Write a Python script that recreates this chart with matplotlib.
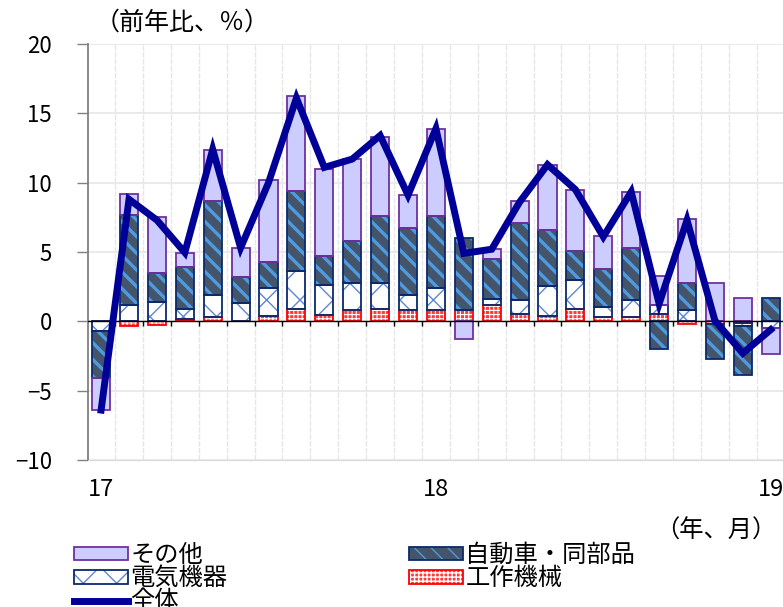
import numpy as np
import matplotlib
matplotlib.use("Agg")
import matplotlib.pyplot as plt
from matplotlib.legend_handler import HandlerTuple

plt.rcParams['font.family'] = ['Noto Sans CJK JP', 'DejaVu Sans']
plt.rcParams['axes.unicode_minus'] = True

# monthly, 2017/1 .. 2019/1
months = np.arange(25)
tick_pos = [0, 12, 24]
tick_lab = ['17', '18', '19']

machine = [0.05, -0.35, -0.25, 0.15, 0.3, 0.05, 0.4, 0.9, 0.43, 0.84, 0.91, 0.84, 0.84,
           0.84, 1.15, 0.55, 0.4, 0.91, 0.31, 0.31, 0.55, -0.17, -0.17, -0.15, 0.0]
electric = [-0.7, 1.15, 1.42, 0.77, 1.58, 1.27, 1.98, 2.7, 2.19, 1.95, 1.86, 1.08, 1.56,
            0.0, 0.49, 0.97, 2.13, 2.09, 0.72, 1.25, 0.6, 0.84, 0.0, -0.2, -0.46]
auto = [-3.4, 6.55, 2.07, 3.0, 6.81, 1.88, 1.93, 5.8, 2.07, 2.99, 4.81, 4.84, 5.18,
        5.2, 2.84, 5.58, 4.09, 2.05, 2.77, 3.74, -1.97, 1.93, -2.53, -3.55, 1.68]
others = [-2.3, 1.45, 4.04, 1.04, 3.66, 2.12, 5.87, 6.86, 6.33, 5.94, 5.72, 2.34, 6.32,
          -1.25, 0.72, 1.59, 4.69, 4.41, 2.36, 4.04, 2.1, 4.64, 2.79, 1.68, -1.87]
total = [-6.4, 8.8, 7.3, 4.96, 12.4, 5.3, 10.0, 16.1, 11.1, 11.7, 13.4, 9.1, 13.9,
         4.9, 5.2, 8.6, 11.3, 9.5, 6.1, 9.34, 1.27, 7.3, 0.05, -2.3, -0.6]

fig = plt.figure(figsize=(7.83, 6.07), dpi=100)
ax = fig.add_axes([88/783, 147/607, 695/783, 416/607])

w = 0.65
pos_b = np.zeros(25)
neg_b = np.zeros(25)
# (values, fill, hatch colour, hatch, outline, hatch lw)
styles = [
    (machine, '#FF3B3B', 'white', '++++', '#FF0000', 0.8),
    (electric, 'white', '#5F86D0', 'x', '#0B2A6B', 1.0),
    (auto, '#44546A', '#4F9BE0', '\\\\', '#0B2A6B', 2.4),
    (others, '#CCCCFF', '#CCCCFF', '', '#7030A0', 1.0),
]
handles = []
for vals, fc, hc, hatch, ec, hlw in styles:
    v = np.array(vals)
    bottom = np.where(v >= 0, pos_b, neg_b)
    with plt.rc_context({'hatch.linewidth': hlw}):
        b1 = ax.bar(months, v, w, bottom=bottom, color=fc, edgecolor=hc,
                    hatch=hatch, linewidth=0, zorder=2)
    b2 = ax.bar(months, v, w, bottom=bottom, fill=False, edgecolor=ec,
                linewidth=1.3, zorder=3)
    handles.append((b1.patches[0], b2.patches[0]))
    pos_b += np.where(v > 0, v, 0)
    neg_b += np.where(v < 0, v, 0)

line, = ax.plot(months, total, color='#000099', lw=5, zorder=5,
                solid_joinstyle='miter')

# zero line with month-boundary ticks
ax.axhline(0, color='black', lw=1.0, zorder=4)
ax.vlines(months[:-1] + 0.5, -0.35, 0, color='black', lw=1.0, zorder=4)

ax.set_xlim(-0.47, 24.44)
ax.set_ylim(-10, 20)
ax.set_yticks([-10, -5, 0, 5, 10, 15, 20])
ax.set_xticks(tick_pos)
ax.set_xticklabels(tick_lab, fontsize=17)
ax.tick_params(axis='x', length=0, pad=13)
ax.tick_params(axis='y', labelsize=16, length=8, color='#808080', pad=18, width=1)
ax.set_xticks(months[:-1] + 0.5, minor=True)
ax.tick_params(axis='x', which='minor', length=0)
ax.grid(axis='y', color='#E6E6E6', lw=1.2, zorder=0)
ax.grid(axis='x', which='minor', color='#E6E6E6', lw=1.0, ls=(0, (4, 1)), zorder=0)
ax.set_axisbelow(True)
for s in ['top', 'right']:
    ax.spines[s].set_visible(False)
ax.spines['left'].set_color('#808080')
ax.spines['left'].set_linewidth(1.3)
ax.spines['bottom'].set_color('#D9D9D9')

fig.text(95/783, 1 - 23/607, '（前年比、％）', fontsize=18, va='center', ha='left')
fig.text(776/783, 1 - 531/607, '（年、月）', fontsize=17.5, va='center', ha='right')

leg_h = [handles[3], handles[1], line, handles[2], handles[0]]
leg_l = ['その他', '電気機器', '全体', '自動車・同部品', '工作機械']
fig.legend(leg_h, leg_l, loc='upper left', bbox_to_anchor=(62/783, 1 - 530/607),
           ncol=2, frameon=False, fontsize=17.5, handlelength=2.2,
           handleheight=0.5, handletextpad=0.1, labelspacing=-0.12,
           columnspacing=7.5, borderpad=0,
           handler_map={tuple: HandlerTuple(ndivide=1)})

fig.savefig('out.png', dpi=100)
